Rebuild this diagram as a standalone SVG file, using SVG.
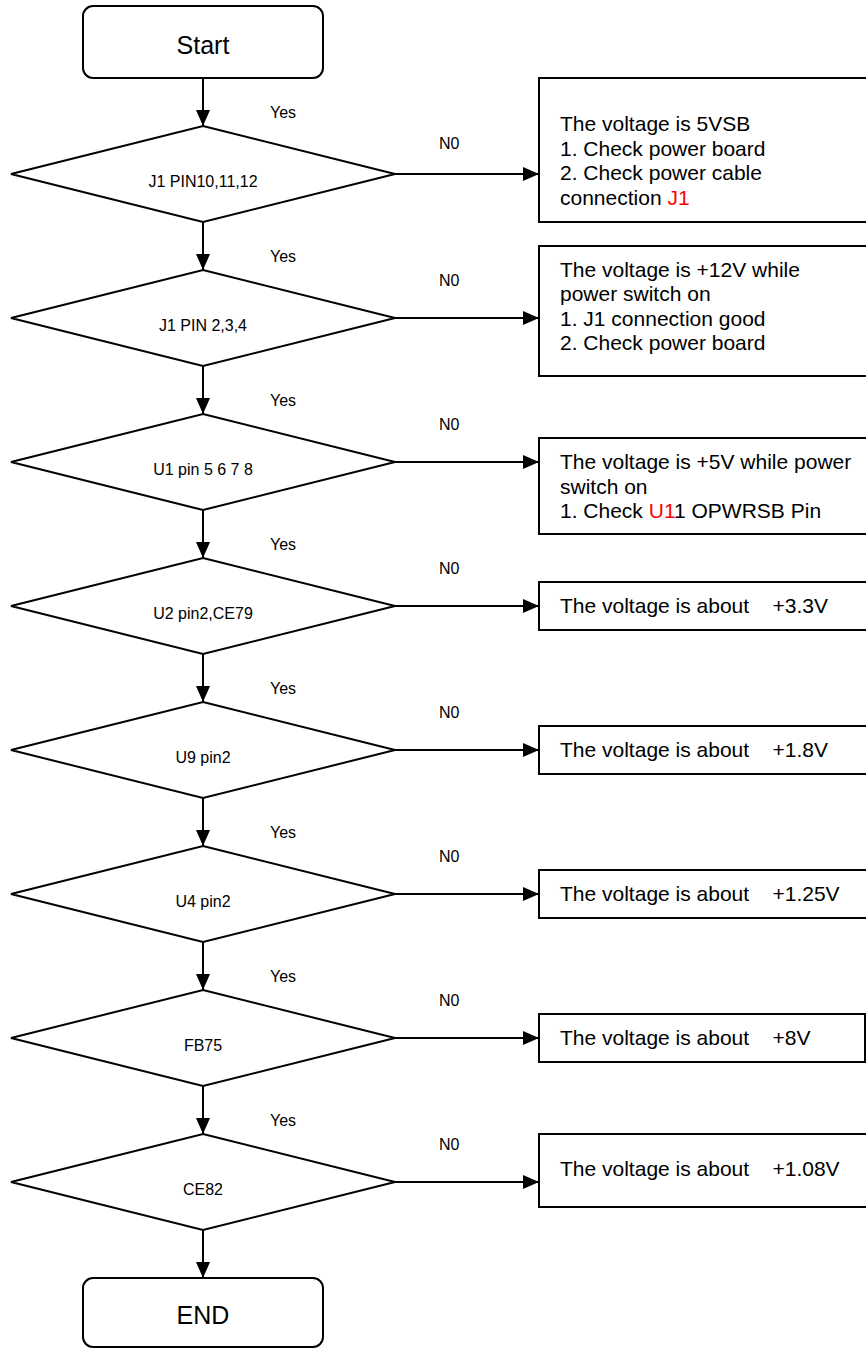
<svg xmlns="http://www.w3.org/2000/svg" width="866" height="1349" viewBox="0 0 866 1349">
<style>
.shape{fill:#fff;stroke:#000;stroke-width:2}
.con{fill:none;stroke:#000;stroke-width:2}
.term{font-family:"Liberation Sans",Arial,sans-serif;font-size:25px;text-anchor:middle;fill:#000}
.dtx{font-family:"Liberation Sans",Arial,sans-serif;font-size:16px;text-anchor:middle;fill:#000}
.lbl{font-family:"Liberation Sans",Arial,sans-serif;font-size:16px;fill:#000}
.btx{font-family:"Liberation Sans",Arial,sans-serif;font-size:21px;fill:#000;white-space:pre}
.red{fill:#ff0000}
</style>
<defs>
<marker id="arr" markerUnits="userSpaceOnUse" markerWidth="16" markerHeight="14" refX="16" refY="7" orient="auto">
<path d="M0,0 L16,7 L0,14 z" fill="#000"/>
</marker>
</defs>
<g id="connectors">
<line class="con" x1="203" y1="78" x2="203" y2="126" marker-end="url(#arr)"/>
<line class="con" x1="203" y1="222" x2="203" y2="270" marker-end="url(#arr)"/>
<line class="con" x1="203" y1="366" x2="203" y2="414" marker-end="url(#arr)"/>
<line class="con" x1="203" y1="510" x2="203" y2="558" marker-end="url(#arr)"/>
<line class="con" x1="203" y1="654" x2="203" y2="702" marker-end="url(#arr)"/>
<line class="con" x1="203" y1="798" x2="203" y2="846" marker-end="url(#arr)"/>
<line class="con" x1="203" y1="942" x2="203" y2="990" marker-end="url(#arr)"/>
<line class="con" x1="203" y1="1086" x2="203" y2="1134" marker-end="url(#arr)"/>
<line class="con" x1="203" y1="1230" x2="203" y2="1278" marker-end="url(#arr)"/>
<line class="con" x1="395" y1="174" x2="539" y2="174" marker-end="url(#arr)"/>
<line class="con" x1="395" y1="318" x2="539" y2="318" marker-end="url(#arr)"/>
<line class="con" x1="395" y1="462" x2="539" y2="462" marker-end="url(#arr)"/>
<line class="con" x1="395" y1="606" x2="539" y2="606" marker-end="url(#arr)"/>
<line class="con" x1="395" y1="750" x2="539" y2="750" marker-end="url(#arr)"/>
<line class="con" x1="395" y1="894" x2="539" y2="894" marker-end="url(#arr)"/>
<line class="con" x1="395" y1="1038" x2="539" y2="1038" marker-end="url(#arr)"/>
<line class="con" x1="395" y1="1182" x2="539" y2="1182" marker-end="url(#arr)"/>
<text class="lbl" x="270" y="118">Yes</text>
<text class="lbl" x="270" y="262">Yes</text>
<text class="lbl" x="270" y="406">Yes</text>
<text class="lbl" x="270" y="550">Yes</text>
<text class="lbl" x="270" y="694">Yes</text>
<text class="lbl" x="270" y="838">Yes</text>
<text class="lbl" x="270" y="982">Yes</text>
<text class="lbl" x="270" y="1126">Yes</text>
<text class="lbl" x="439" y="149">N0</text>
<text class="lbl" x="439" y="286">N0</text>
<text class="lbl" x="439" y="430">N0</text>
<text class="lbl" x="439" y="574">N0</text>
<text class="lbl" x="439" y="718">N0</text>
<text class="lbl" x="439" y="862">N0</text>
<text class="lbl" x="439" y="1006">N0</text>
<text class="lbl" x="439" y="1150">N0</text>
</g>
<g id="start">
<rect class="shape" x="83" y="6" width="240" height="72" rx="10"/>
<text class="term" x="203" y="54">Start</text>
</g>
<g id="d1">
<polygon class="shape" points="203,126 395,174 203,222 11,174"/>
<text class="dtx" x="203" y="187">J1 PIN10,11,12</text>
</g>
<g id="d2">
<polygon class="shape" points="203,270 395,318 203,366 11,318"/>
<text class="dtx" x="203" y="331">J1 PIN 2,3,4</text>
</g>
<g id="d3">
<polygon class="shape" points="203,414 395,462 203,510 11,462"/>
<text class="dtx" x="203" y="475">U1 pin 5 6 7 8</text>
</g>
<g id="d4">
<polygon class="shape" points="203,558 395,606 203,654 11,606"/>
<text class="dtx" x="203" y="619">U2 pin2,CE79</text>
</g>
<g id="d5">
<polygon class="shape" points="203,702 395,750 203,798 11,750"/>
<text class="dtx" x="203" y="763">U9 pin2</text>
</g>
<g id="d6">
<polygon class="shape" points="203,846 395,894 203,942 11,894"/>
<text class="dtx" x="203" y="907">U4 pin2</text>
</g>
<g id="d7">
<polygon class="shape" points="203,990 395,1038 203,1086 11,1038"/>
<text class="dtx" x="203" y="1051">FB75</text>
</g>
<g id="d8">
<polygon class="shape" points="203,1134 395,1182 203,1230 11,1182"/>
<text class="dtx" x="203" y="1195">CE82</text>
</g>
<g id="end">
<rect class="shape" x="83" y="1278" width="240" height="69" rx="10"/>
<text class="term" x="203" y="1324">END</text>
</g>
<g id="b1">
<rect class="shape" x="539" y="78" width="330" height="144"/>
<text class="btx" x="560" y="131">The voltage is 5VSB</text>
<text class="btx" x="560" y="155.5">1. Check power board</text>
<text class="btx" x="560" y="180">2. Check power cable</text>
<text class="btx" x="560" y="204.5">connection <tspan class="red">J1</tspan></text>
</g>
<g id="b2">
<rect class="shape" x="539" y="246" width="330" height="130"/>
<text class="btx" x="560" y="277">The voltage is +12V while</text>
<text class="btx" x="560" y="301">power switch on</text>
<text class="btx" x="560" y="325.5">1. J1 connection good</text>
<text class="btx" x="560" y="350">2. Check power board</text>
</g>
<g id="b3">
<rect class="shape" x="539" y="438" width="330" height="96"/>
<text class="btx" x="560" y="469">The voltage is +5V while power</text>
<text class="btx" x="560" y="493.5">switch on</text>
<text class="btx" x="560" y="518">1. Check <tspan class="red">U1</tspan>1 OPWRSB Pin</text>
</g>
<g id="b4">
<rect class="shape" x="539" y="582" width="330" height="48"/>
<text class="btx" x="560" y="613">The voltage is about    +3.3V</text>
</g>
<g id="b5">
<rect class="shape" x="539" y="726" width="330" height="48"/>
<text class="btx" x="560" y="757">The voltage is about    +1.8V</text>
</g>
<g id="b6">
<rect class="shape" x="539" y="870" width="330" height="48"/>
<text class="btx" x="560" y="901">The voltage is about    +1.25V</text>
</g>
<g id="b7">
<rect class="shape" x="539" y="1014" width="326" height="48"/>
<text class="btx" x="560" y="1045">The voltage is about    +8V</text>
</g>
<g id="b8">
<rect class="shape" x="539" y="1134" width="330" height="73"/>
<text class="btx" x="560" y="1176">The voltage is about    +1.08V</text>
</g>
</svg>
